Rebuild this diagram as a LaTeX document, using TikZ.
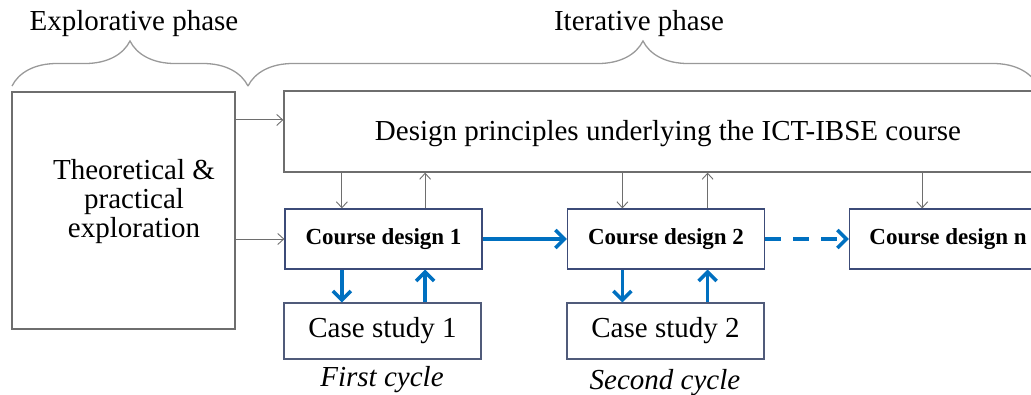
\documentclass[tikz,border=0pt]{standalone}
\usepackage{fontspec}
\setmainfont{Liberation Serif}
\usepackage{xcolor}
\usetikzlibrary{arrows.meta, calc, decorations.pathreplacing}

\definecolor{cycleblue}{RGB}{0,112,192}
\definecolor{framegray}{RGB}{110,110,110}
\definecolor{framenavy}{RGB}{60,75,120}

\begin{document}
\begin{tikzpicture}[x=1pt, y=-1pt,
    bigbox/.style={rectangle, draw=framegray, line width=1.3pt, inner sep=0pt, align=center, font=\fontsize{29}{29}\selectfont},
    designbox/.style={rectangle, draw=framenavy, line width=1.2pt, minimum width=197pt, minimum height=60pt, inner sep=0pt, font=\fontsize{23}{27}\selectfont\bfseries},
    casebox/.style={rectangle, draw=framenavy!70!gray, line width=1.2pt, minimum width=197pt, minimum height=56pt, inner sep=0pt, font=\fontsize{29}{33}\selectfont},
    textblock/.style={align=center, inner sep=0pt, font=\fontsize{29}{29}\selectfont},
    phaselabel/.style={anchor=base, font=\fontsize{29}{33}\selectfont},
    cyclelabel/.style={anchor=base, font=\fontsize{29}{33}\selectfont\itshape},
    thinarrow/.style={-{Straight Barb[length=6pt, width=11pt]}, line width=0.9pt, draw=framegray},
    cyclearrow/.style={-{Straight Barb[length=9pt, width=18pt]}, line width=3.5pt, draw=cycleblue},
    bracepath/.style={decorate, decoration={brace, amplitude=45pt}, line width=1.3pt, draw=gray!80},
]

\useasboundingbox (0,0) rectangle (1031,394);
\clip (0,0) rectangle (1031,394);

% Phase braces
\coordinate (exstart) at (12,86);
\coordinate (exend) at (248,86);
\coordinate (itend) at (1038,86);
\draw[bracepath] (exstart) -- (exend);
\draw[bracepath] (exend) -- (itend);
\node[phaselabel] (explorative) at (134,30) {Explorative phase};
\node[phaselabel] (iterative) at (639,30) {Iterative phase};

% Exploration and design principles
\node[bigbox, minimum width=223pt, minimum height=237pt] (explore) at (123.5,210.5) {};
\node[textblock] (explorelabel) at (134,202) {Theoretical \&\\practical\\exploration};
\node[bigbox, minimum width=766pt, minimum height=81pt] (principles) at (667,131.5) {};
\node[textblock] (principleslabel) at (668,134) {Design principles underlying the ICT-IBSE course};

% Course designs
\node[designbox] (design1) at (383.5,239) {Course design 1};
\node[designbox] (design2) at (666,239) {Course design 2};
\node[designbox] (designn) at (948,239) {Course design n};

% Case studies
\node[casebox] (case1) at (382.5,331) {Case study 1};
\node[casebox] (case2) at (665.5,331) {Case study 2};
\node[cyclelabel] (cycle1) at (382,386) {First cycle};
\node[cyclelabel] (cycle2) at (665,389) {Second cycle};

% Arrows from exploration
\coordinate (feed) at ($(explore.north east)!0.12!(explore.south east)$);
\draw[thinarrow] (feed) -- (feed -| principles.west);
\draw[thinarrow] (explore.east |- design1.west) -- (design1.west);

% First cycle
\coordinate (d1in) at ($(design1.north west)!0.29!(design1.north east)$);
\coordinate (d1out) at ($(design1.north west)!0.71!(design1.north east)$);
\draw[thinarrow] (d1in |- principles.south) -- (d1in);
\draw[thinarrow] (d1out) -- (d1out |- principles.south);
\draw[cyclearrow] (d1in |- design1.south) -- (d1in |- case1.north);
\draw[cyclearrow] (d1out |- case1.north) -- (d1out |- design1.south);

% Second cycle
\coordinate (d2in) at ($(design2.north west)!0.28!(design2.north east)$);
\coordinate (d2out) at ($(design2.north west)!0.71!(design2.north east)$);
\draw[thinarrow] (d2in |- principles.south) -- (d2in);
\draw[thinarrow] (d2out) -- (d2out |- principles.south);
\draw[cyclearrow] (d2in |- design2.south) -- (d2in |- case2.north);
\draw[cyclearrow] (d2out |- case2.north) -- (d2out |- design2.south);

% Next cycles
\coordinate (dnin) at ($(designn.north west)!0.37!(designn.north east)$);
\draw[thinarrow] (dnin |- principles.south) -- (dnin);
\draw[cyclearrow] (design1.east) -- (design2.west);
\draw[cyclearrow, dash pattern=on 16pt off 12pt] (design2.east) -- (designn.west);

\end{tikzpicture}
\end{document}
